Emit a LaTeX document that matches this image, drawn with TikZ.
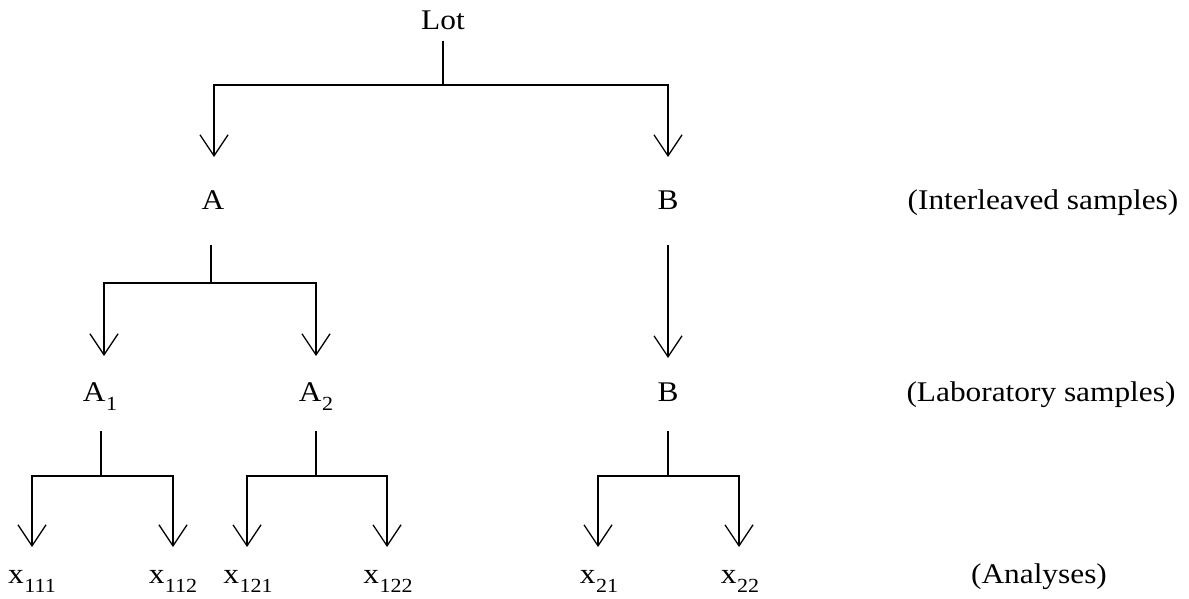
\documentclass[tikz,border=0pt]{standalone}
\usepackage{fontspec}
\setmainfont{Liberation Serif}[FakeStretch=1.1]
\usetikzlibrary{arrows.meta}
\newcommand{\sbs}[1]{\kern0.5pt\raisebox{-9pt}{\fontsize{20}{22}\selectfont #1}}
\begin{document}
\begin{tikzpicture}[x=1pt,y=-1pt,
  lbl/.style={inner sep=0pt,font=\fontsize{28.5}{32}\selectfont,anchor=base},
  side/.style={inner sep=0pt,font=\fontsize{28.5}{32}\selectfont,anchor=base},
  conn/.style={line width=1.3pt},
  arr/.style={conn,-{Straight Barb[length=21pt,width=28pt,line width=1.3pt]}}]
\useasboundingbox (0,0) rectangle (1189,599);
% text nodes (base at baseline)
\node[lbl] (lot) at (443,30) {Lot};
\node[lbl] (A) at (213,209) {A};
\node[lbl] (B) at (668,209) {B};
\node[lbl] (A1) at (100,401) {A\sbs{1}};
\node[lbl] (A2) at (316,401) {A\sbs{2}};
\node[lbl] (B2) at (668,401) {B};
\node[lbl] (x111) at (32,583) {x\sbs{111}};
\node[lbl] (x112) at (173,583) {x\sbs{112}};
\node[lbl] (x121) at (248,583) {x\sbs{121}};
\node[lbl] (x122) at (388,583) {x\sbs{122}};
\node[lbl] (x21) at (599,583) {x\sbs{21}};
\node[lbl] (x22) at (740,583) {x\sbs{22}};
\node[side] (s1) at (1043,209) {(Interleaved samples)};
\node[side] (s2) at (1041,401) {(Laboratory samples)};
\node[side] (s3) at (1039,583) {(Analyses)};
% junction coordinates
\coordinate (jl) at (443,85);
\coordinate (ja) at (211,283);
\coordinate (ja1) at (101,476);
\coordinate (ja2) at (316,476);
\coordinate (jb) at (668,476);
% Lot
\draw[conn] (443,41) -- (jl);
\draw[arr] (jl) -| (214,157);
\draw[arr] (jl) -| (668,157);
% A
\draw[conn] (211,245) -- (ja);
\draw[arr] (ja) -| (104,356);
\draw[arr] (ja) -| (316,356);
% B
\draw[arr] (668,245) -- (668,358);
% A1
\draw[conn] (101,431) -- (ja1);
\draw[arr] (ja1) -| (32,547);
\draw[arr] (ja1) -| (173,547);
% A2
\draw[conn] (316,431) -- (ja2);
\draw[arr] (ja2) -| (247,547);
\draw[arr] (ja2) -| (387,547);
% B lab
\draw[conn] (668,431) -- (jb);
\draw[arr] (jb) -| (598,547);
\draw[arr] (jb) -| (739,547);
\end{tikzpicture}
\end{document}
